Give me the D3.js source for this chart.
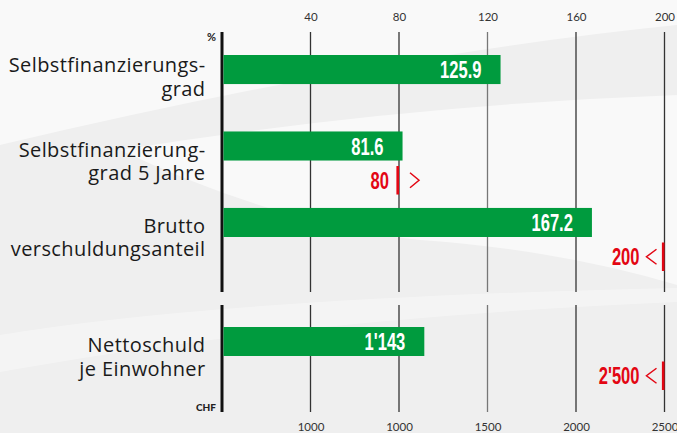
<!DOCTYPE html>
<html>
<head>
<meta charset="utf-8">
<script src="https://d3js.org/d3.v7.min.js"></script>
<style>
  body { margin: 0; }
  .lbl { font-family: "Open Sans", "Lato", sans-serif; font-size: 20px; letter-spacing: 0.4px; fill: #1a1a1a; }
  .tick text { font-family: "Lato", sans-serif; font-size: 11.5px; fill: #333; }
  .num { font-family: "Liberation Sans Narrow", "Liberation Sans", sans-serif; font-weight: bold; font-size: 23px; }
</style>
</head>
<body>
<script>
// data
var pctCategories = [["Selbstfinanzierungs-", "grad"], ["Selbstfinanzierung-", "grad 5 Jahre"], ["Brutto", "verschuldungsanteil"]];
var pctValues = [125.9, 81.6, 167.2];
var pctLabels = ["125.9", "81.6", "167.2"];
var pctTargets = [null, 80, 200];
var pctTargetLabels = [null, "80", "200"];
var pctTargetDir = [null, ">", "<"];
var pctTicks = [40, 80, 120, 160, 200];

var chfCategories = [["Nettoschuld", "je Einwohner"]];
var chfValues = [1143];
var chfLabels = ["1'143"];
var chfTargets = [2500];
var chfTargetLabels = ["2'500"];
var chfTargetDir = ["<"];
var chfTicks = [500, 1000, 1500, 2000, 2500];
var chfTickLabels = ["1000", "1000", "1500", "2000", "2500"];

var width = 677, height = 433;
var green = "#009b3e", red = "#e30613";

var svg = d3.select("body").append("svg")
    .attr("width", width)
    .attr("height", height);

// background with soft swooshes
svg.append("rect").attr("width", width).attr("height", height).attr("fill", "#efefef");
svg.append("path").attr("d", "M0,0H677V25Q380,55 0,145Z").attr("fill", "#fff").attr("opacity", 0.6);
svg.append("path").attr("d", "M120,150Q400,105 677,95V285Q560,250 420,240Q280,225 120,150Z").attr("fill", "#fff").attr("opacity", 0.6);
svg.append("path").attr("d", "M0,335Q220,298 677,288V302Q300,318 0,372Z").attr("fill", "#fff").attr("opacity", 0.35);

// scales
var x = d3.scaleLinear().domain([0, 200]).range([222, 664.5]);
var xChf = d3.scaleLinear().domain([0, 2500]).range([222, 664.5]);

var y = d3.scaleBand()
    .domain(d3.range(pctValues.length))
    .range([55, 237])
    .paddingInner(0.62)
    .paddingOuter(0);
var yChf = d3.scaleBand()
    .domain(d3.range(chfValues.length))
    .range([327, 356]);

var segments = [[32, 292], [305, 412]];

// gridlines
segments.forEach(function(s) {
    svg.selectAll(null)
        .data(pctTicks)
        .enter().append("line")
        .attr("x1", function(d) { return x(d); })
        .attr("x2", function(d) { return x(d); })
        .attr("y1", s[0])
        .attr("y2", s[1])
        .attr("stroke", function(d, i) { return i == 2 ? "#777" : "#333"; })
        .attr("stroke-width", 1.3);
    svg.append("line")
        .attr("x1", x(0)).attr("x2", x(0))
        .attr("y1", s[0]).attr("y2", s[1])
        .attr("stroke", "#111")
        .attr("stroke-width", 3);
});

// axes (labels only)
var topAxis = svg.append("g")
    .attr("transform", "translate(0,21)")
    .call(d3.axisTop(x).tickValues(pctTicks).tickSize(0).tickPadding(0));
var bottomAxis = svg.append("g")
    .attr("transform", "translate(0,423)")
    .call(d3.axisBottom(xChf).tickValues(chfTicks).tickSize(0).tickPadding(0)
        .tickFormat(function(d, i) { return chfTickLabels[i]; }));
[topAxis, bottomAxis].forEach(function(a) { a.select(".domain").remove(); });

svg.append("text").attr("x", 216).attr("y", 41).attr("text-anchor", "end")
    .style("font-family", "Lato, sans-serif").style("font-weight", "bold").style("font-size", "11px")
    .attr("fill", "#222").text("%");
svg.append("text").attr("x", 216).attr("y", 411).attr("text-anchor", "end")
    .style("font-family", "Lato, sans-serif").style("font-weight", "900").style("font-size", "10px")
    .attr("fill", "#222").text("CHF");

function drawRows(cats, vals, labels, targets, tLabels, tDirs, xs, ys) {
    var rows = cats.map(function(c, i) {
        return { cat: c, value: vals[i], label: labels[i], target: targets[i], tLabel: tLabels[i], dir: tDirs[i], i: i };
    });
    var bw = ys.bandwidth();

    // bars
    svg.selectAll(null)
        .data(rows)
        .enter().append("rect")
        .attr("x", xs(0) + 1.5)
        .attr("y", function(d) { return ys(d.i); })
        .attr("width", function(d) { return xs(d.value) - xs(0) - 1.5; })
        .attr("height", bw)
        .attr("fill", green);

    // value labels
    svg.selectAll(null)
        .data(rows)
        .enter().append("text")
        .attr("class", "num")
        .attr("text-anchor", "end")
        .attr("fill", "#fff")
        .attr("transform", function(d) {
            return "translate(" + (xs(d.value) - 19) + "," + (ys(d.i) + bw / 2 + 8.5) + ") scale(0.72,1)";
        })
        .text(function(d) { return d.label; });

    // category labels, two lines each
    rows.forEach(function(d) {
        var c = ys(d.i) + bw / 2 + (d.target == null ? 7 : 15);
        d.cat.forEach(function(line, k) {
            svg.append("text").attr("class", "lbl").attr("text-anchor", "end")
                .attr("x", 205.5).attr("y", c - 4.5 + k * 23.5).text(line);
        });
    });

    // targets
    var tg = rows.filter(function(d) { return d.target != null; });
    tg.forEach(function(d) {
        var lx = xs(d.target);
        var top = ys(d.i) + bw + 5.5;
        var cy = top + 14.25;
        svg.append("rect")
            .attr("x", lx - 2.6).attr("y", top)
            .attr("width", 2.6).attr("height", 28.5)
            .attr("fill", red);
        var p = d3.path();
        if (d.dir == ">") {
            p.moveTo(lx + 11, cy - 7.5); p.lineTo(lx + 20, cy); p.lineTo(lx + 11, cy + 7.5);
        } else {
            p.moveTo(lx - 8, cy - 7.5); p.lineTo(lx - 18, cy); p.lineTo(lx - 8, cy + 7.5);
        }
        svg.append("path").attr("d", p.toString())
            .attr("fill", "none").attr("stroke", red).attr("stroke-width", 1.5);
        svg.append("text")
            .attr("class", "num")
            .attr("text-anchor", "end")
            .attr("fill", red)
            .attr("transform", "translate(" + (d.dir == ">" ? lx - 10 : lx - 25) + "," + (cy + 8.5) + ") scale(0.72,1)")
            .text(d.tLabel);
    });
}

drawRows(pctCategories, pctValues, pctLabels, pctTargets, pctTargetLabels, pctTargetDir, x, y);
drawRows(chfCategories, chfValues, chfLabels, chfTargets, chfTargetLabels, chfTargetDir, xChf, yChf);
</script>
</body>
</html>
